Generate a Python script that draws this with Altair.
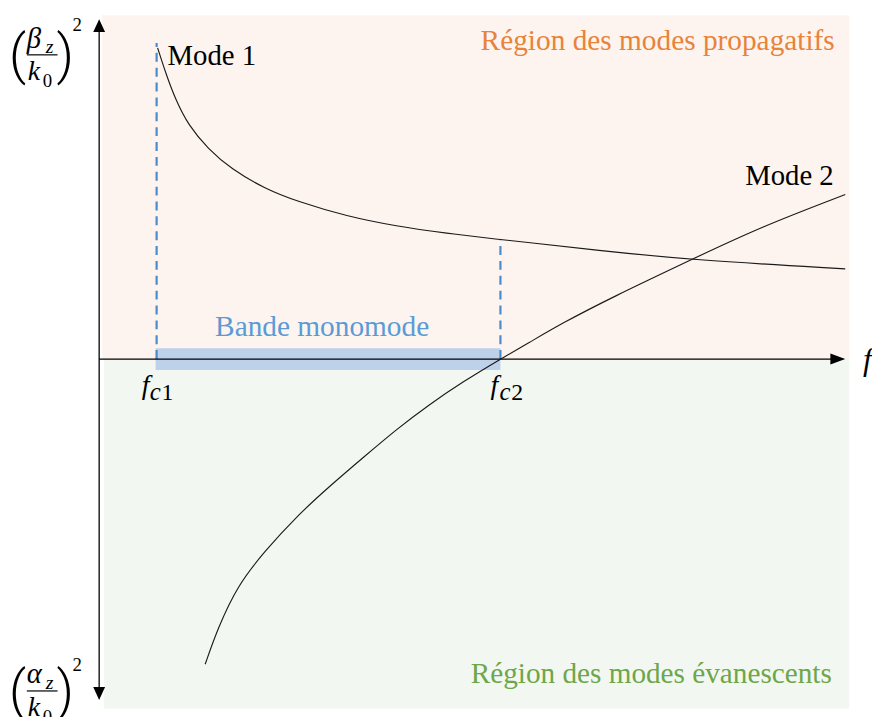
import altair as alt
import pandas as pd

# ---- data (schematic units: f to the right, (beta/k0)^2 up, origin at the axes crossing)
mode1_f = [59, 67, 77, 90, 110, 133, 167, 200, 250, 300, 350, 405, 430, 500, 597, 753]
mode1_b = [314, 289, 262, 236, 212, 192, 172, 159, 144, 134, 127, 120.5, 118, 110, 100, 91]
mode2_f = [107, 120, 140, 167, 200, 233, 267, 300, 333, 367, 405, 433, 467, 517, 597, 667, 753]
mode2_b = [-308, -271, -228, -194, -158, -128, -99, -71, -46, -23, 0, 16, 36, 62, 100, 133, 166]

fc1 = 58
fc2 = 405
fc1_top = 319
fc2_top = 121

f_max = 757
b_top = 347
b_bottom = -353

X_DOM = [-92, 780]
Y_DOM = [-358, 351]

xs = alt.Scale(domain=X_DOM, nice=False, zero=False)
ys = alt.Scale(domain=Y_DOM, nice=False, zero=False)
X = lambda f: alt.X(f, type="quantitative", scale=xs, axis=None)
Y = lambda f: alt.Y(f, type="quantitative", scale=ys, axis=None)

# background regions
regions = pd.DataFrame({
    "x": [3, 5], "x2": [f_max, f_max],
    "y": [0, b_bottom], "y2": [b_top, 0],
    "color": ["#fdf4f0", "#f2f8f1"],
})
bg = alt.Chart(regions).mark_rect(strokeWidth=0).encode(
    x=X("x"), x2="x2", y=Y("y"), y2="y2",
    color=alt.Color("color:N", scale=None),
)

# single-mode band
band_df = pd.DataFrame({"x": [fc1 - 1], "x2": [fc2], "y": [-11], "y2": [11]})
band = alt.Chart(band_df).mark_rect(color="#bdd2ea", strokeWidth=0).encode(
    x=X("x"), x2="x2", y=Y("y"), y2="y2"
)

# axes
axes_df = pd.DataFrame({"x": [0, 0], "x2": [0, 740], "y": [-334, 0], "y2": [333, 0]})
axes = alt.Chart(axes_df).mark_rule(color="black", strokeWidth=1.3).encode(
    x=X("x"), x2="x2", y=Y("y"), y2="y2"
)
heads_df = pd.DataFrame({
    "x": [0, 0, 745.5], "y": [336.5, -337.5, 0],
    "shape": ["M0,-1L0.92,1L-0.92,1Z", "M0,1L0.92,-1L-0.92,-1Z", "M1,0L-1,0.73L-1,-0.73Z"],
    "size": [169, 169, 225],
})
heads = alt.Chart(heads_df).mark_point(filled=True, color="black", opacity=1, strokeWidth=0).encode(
    x=X("x"), y=Y("y"),
    shape=alt.Shape("shape:N", scale=None),
    size=alt.Size("size:Q", scale=None),
)

# cutoff dashed lines
dash_df = pd.DataFrame({"x": [fc1, fc2], "y": [0, 0], "y2": [fc1_top, fc2_top]})
dashes = alt.Chart(dash_df).mark_rule(color="#4a8bcb", strokeWidth=2.2, strokeDash=[9, 6]).encode(
    x=X("x"), y=Y("y"), y2="y2"
)

# mode curves
curves_df = pd.concat([
    pd.DataFrame({"f": mode1_f, "b": mode1_b, "mode": "Mode 1"}),
    pd.DataFrame({"f": mode2_f, "b": mode2_b, "mode": "Mode 2"}),
])
curves = alt.Chart(curves_df).mark_line(color="#1a1a1a", strokeWidth=1.15, interpolate="basis").encode(
    x=X("f"), y=Y("b"), detail="mode:N"
)

# fraction bars of the axis labels
bars_df = pd.DataFrame({"x": [-73, -73], "x2": [-42, -42], "y": [307, -335]})
bars = alt.Chart(bars_df).mark_rule(color="black", strokeWidth=1.2).encode(
    x=X("x"), x2="x2", y=Y("y")
)

BLACK = "#000000"
ORANGE = "#e8833a"
GREEN = "#6ea64a"
BLUE = "#5b9bd5"

normal_txt = pd.DataFrame([
    ["Région des modes propagatifs", 385, 312, 29.6, ORANGE],
    ["Région des modes évanescents", 375, -327, 29.5, GREEN],
    ["Bande monomode", 117, 23, 29.6, BLUE],
    ["Mode 1", 69, 297, 29, BLACK],
    ["Mode 2", 652, 176, 29, BLACK],
    ["1", 63, -41, 24, BLACK],
    ["2", 416, -41, 24, BLACK],
    ["0", -57, 275, 19, BLACK],
    ["2", -27, 331, 19, BLACK],
    ["0", -57, -367, 19, BLACK],
    ["2", -27, -315, 19, BLACK],
], columns=["text", "x", "y", "size", "color"])

italic_txt = pd.DataFrame([
    ["f", 43, -35, 28, BLACK],
    ["c", 51, -41, 25, BLACK],
    ["f", 395, -35, 28, BLACK],
    ["c", 404, -41, 25, BLACK],
    ["f", 771, -11, 32, BLACK],
    ["β", -73, 314, 29, BLACK],
    ["z", -54, 309, 20, BLACK],
    ["k", -72, 282, 28, BLACK],
    ["α", -73, -327, 29, BLACK],
    ["z", -54, -333, 20, BLACK],
    ["k", -72, -360, 28, BLACK],
], columns=["text", "x", "y", "size", "color"])

paren_txt = pd.DataFrame([
    ["(", -91, 289, 54, BLACK],
    [")", -43, 289, 54, BLACK],
    ["(", -91, -353, 54, BLACK],
    [")", -43, -353, 54, BLACK],
], columns=["text", "x", "y", "size", "color"])


def text_layer(df, style, font="Liberation Serif", weight="normal"):
    return alt.Chart(df).mark_text(
        align="left", baseline="alphabetic", font=font, fontStyle=style, fontWeight=weight
    ).encode(
        x=X("x"), y=Y("y"), text="text:N",
        size=alt.Size("size:Q", scale=None),
        color=alt.Color("color:N", scale=None),
    )


chart = alt.layer(
    bg, band, dashes, axes, heads, curves, bars,
    text_layer(normal_txt, "normal"), text_layer(italic_txt, "italic"),
    text_layer(paren_txt, "normal", font="Roboto", weight=300),
).properties(
    width=872, height=709, padding=0, autosize=alt.AutoSizeParams(type="none"),
    background="white",
).configure_view(stroke=None)

chart.save("out.html", embed_options={"renderer": "svg", "actions": False})
